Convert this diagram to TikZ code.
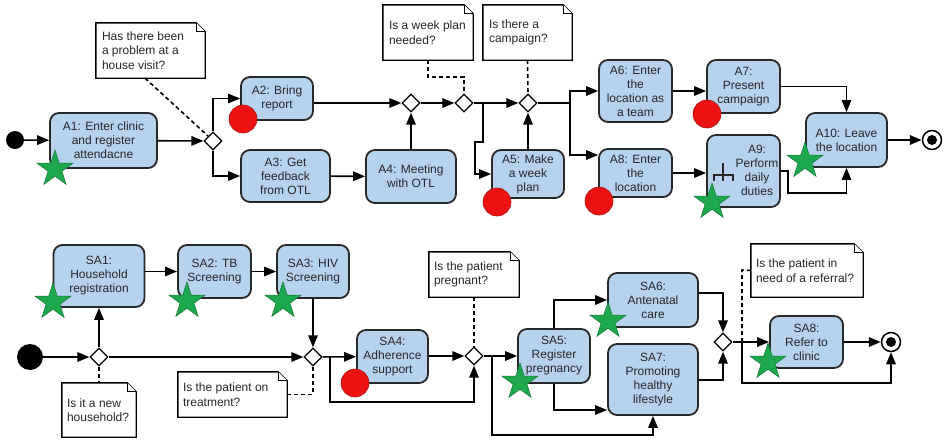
\documentclass[tikz,border=0pt]{standalone}
\usepackage{fontspec}
\setmainfont{Liberation Sans}
\usetikzlibrary{arrows.meta,shapes.geometric,calc}
\definecolor{boxblue}{RGB}{182,210,237}
\definecolor{lineclr}{RGB}{40,40,40}
\definecolor{textclr}{RGB}{38,38,45}
\definecolor{redmk}{RGB}{236,18,18}
\definecolor{greenmk}{RGB}{30,168,78}
\newcommand\mynote[1]{%
  \draw[noteout] (#1.north west) -- ([xshift=-9pt]#1.north east) -- ([yshift=-9pt]#1.north east) -- (#1.south east) -- (#1.south west) -- cycle;
  \draw[noteout,line width=1pt] ([xshift=-9pt]#1.north east) -- ([xshift=-9pt,yshift=-9pt]#1.north east) -- ([yshift=-9pt]#1.north east);}
\begin{document}
\begin{tikzpicture}[x=1pt,y=-1pt,
  act/.style={draw=lineclr, line width=1.8pt, fill=boxblue, rounded corners=9pt, align=center,
    font=\fontsize{12}{14}\selectfont, text=textclr, inner sep=0pt},
  dec/.style={draw=black, fill=white, diamond, minimum size=18pt, inner sep=0pt, line width=1.3pt},
  flow/.style={draw=black, line width=1.6pt, -{Triangle[length=12pt,width=9.5pt]}},
  plainln/.style={draw=black, line width=1.6pt},
  noteline/.style={draw=black, line width=1.6pt, dash pattern=on 4pt off 3pt},
  notebox/.style={inner sep=0pt},
  notetext/.style={align=left, font=\fontsize{12}{14.5}\selectfont, text=textclr, inner sep=0pt, anchor=west},
  noteout/.style={draw=black, line width=1.4pt, fill=white},
  redmark/.style={circle, fill=redmk, draw={rgb,255:red,170;green,20;blue,20}, line width=0.6pt, minimum size=28pt, inner sep=0pt},
  greenstar/.style={star, star points=5, star point ratio=2.6, fill=greenmk, draw={rgb,255:red,20;green,120;blue,55}, line width=0.5pt, minimum size=38pt, inner sep=0pt},
  startnd/.style={circle, fill=black, inner sep=0pt},
  endnd/.style={circle, draw=black, line width=1.5pt, fill=white, minimum size=19pt, inner sep=0pt}
]
\useasboundingbox (0,0) rectangle (944,439);

% ---------------- notes (top) ----------------
\node[notebox, minimum width=109pt, minimum height=55pt] (N1) at (150.5,50.5) {};
\node[notebox, minimum width=90pt, minimum height=55pt] (N2) at (428,32.5) {};
\node[notebox, minimum width=89pt, minimum height=55pt] (N3) at (527.5,32.5) {};
\mynote{N1}\mynote{N2}\mynote{N3}
\node[notetext] (N1t) at ([xshift=6pt]N1.west) {Has there been\\a problem at a\\house visit?};
\node[notetext] (N2t) at ([xshift=6pt]N2.west) {Is a week plan\\needed?};
\node[notetext] (N3t) at ([xshift=6pt]N3.west) {Is there a\\campaign?};

% ---------------- notes (bottom) ----------------
\node[notebox, minimum width=74pt, minimum height=54pt] (N4) at (99,410) {};
\node[notebox, minimum width=109pt, minimum height=45pt] (N5) at (232.5,394.5) {};
\node[notebox, minimum width=90pt, minimum height=45pt] (N6) at (474,274.5) {};
\node[notebox, minimum width=112pt, minimum height=53pt] (N7) at (807,270.5) {};
\mynote{N4}\mynote{N5}\mynote{N6}\mynote{N7}
\node[notetext] (N4t) at ([xshift=5pt]N4.west) {Is it a new\\household?};
\node[notetext] (N5t) at ([xshift=5pt]N5.west) {Is the patient on\\treatment?};
\node[notetext] (N6t) at ([xshift=5pt]N6.west) {Is the patient\\pregnant?};
\node[notetext] (N7t) at ([xshift=5pt]N7.west) {Is the patient in\\need of a referral?};

% ---------------- top row ----------------
\node[startnd, minimum size=18pt] (s1) at (15,140) {};
\node[act, minimum width=107pt, minimum height=55pt] (A1) at (103.5,140.5) {A1: Enter clinic\\and register\\attendacne};
\node[act, minimum width=72pt, minimum height=43pt] (A2) at (277,98.5) {A2: Bring\\report};
\node[act, minimum width=89pt, minimum height=52pt] (A3) at (285.5,176) {A3: Get\\feedback\\from OTL};
\node[act, minimum width=90pt, minimum height=53pt] (A4) at (411,176.5) {A4: Meeting\\with OTL};
\node[act, minimum width=72pt, minimum height=48pt] (A5) at (528,174) {A5: Make\\a week\\plan};
\node[act, minimum width=73pt, minimum height=62pt] (A6) at (635.5,91) {A6: Enter\\the\\location as\\a team};
\node[act, minimum width=73pt, minimum height=53pt] (A7) at (743.5,86.5) {A7:\\Present\\campaign};
\node[act, minimum width=73pt, minimum height=48pt] (A8) at (635.5,173) {A8: Enter\\the\\location};
\node[act, minimum width=73pt, minimum height=72pt] (A9) at (743.5,171) {};
\node[act, draw=none, fill=none] (A9t) at (757,170) {A9:\\Perform\\daily\\duties};
\node[act, minimum width=81pt, minimum height=54pt] (A10) at (846.5,140) {A10: Leave\\the location};
\node[endnd] (e1) at (932,140) {};
\fill[black] (e1.center) circle[radius=5pt];

\node[dec] (D1) at (213,141) {};
\node[dec] (D2) at (411,103) {};
\node[dec] (D3) at (464,103) {};
\node[dec] (D4) at (528,103) {};

% call-behaviour (rake) icon
\draw[line width=1.3pt, draw=lineclr] (714,181) -- (714,175) -- (733,175) -- (733,181) (723,163) -- (723,181);

\coordinate (k1) at (483,142);
\coordinate (k2) at (475,142);
\coordinate (k3) at (570,103);
\coordinate (k4) at (570,155);
\coordinate (k5) at (788,193);
\coordinate (k6) at (464,77);

\draw[flow] (s1) -- (A1);
\draw[flow] (A1) -- (D1);
\draw[flow] (D1.north) |- (A2.west);
\draw[flow] (D1.south) |- (A3.west);
\draw[flow] (A3) -- (A4);
\draw[flow] (A4) -- (D2);
\draw[flow] (A2.east |- D2) -- (D2.west);
\draw[flow] (D2) -- (D3);
\draw[flow] (D3) -- (D4);
\draw[flow] (D3.east -| k1) -- (k1) -- (k2) |- (A5.west);
\draw[flow] (A5) -- (D4);
\draw[plainln] (D4.east) -- (k3);
\draw[flow] (k3) |- (A6.west);
\draw[flow] (k3) -- (k4) -- (k4 -| A8.west);
\draw[flow] (A6.east) -- (A6.east -| A7.west);
\draw[flow] (A8.east) -- (A8.east -| A9.west);
\draw[flow] (A7.east) -| (A10.north);
\draw[flow] (A9.east) -| (k5) -| (A10.south);
\draw[flow] (A10) -- (e1);

\draw[noteline] ($(N1.south west)!0.45!(N1.south east)$) -- (D1.north west);
\draw[noteline] (N2.south) |- (k6) -- (D3.north);
\draw[noteline] (N3.south) -- (D4.north);

% ---------------- bottom row ----------------
\node[startnd, minimum size=26pt] (s2) at (30,357) {};
\node[act, minimum width=91pt, minimum height=62pt] (SA1) at (99,276) {SA1:\\Household\\registration};
\node[act, minimum width=73pt, minimum height=53pt] (SA2) at (214.5,271.5) {SA2: TB\\Screening};
\node[act, minimum width=72pt, minimum height=53pt] (SA3) at (313,271.5) {SA3: HIV\\Screening};
\node[act, minimum width=71pt, minimum height=53pt] (SA4) at (392.5,356.5) {SA4:\\Adherence\\support};
\node[act, minimum width=72pt, minimum height=54pt] (SA5) at (554,356) {SA5:\\Register\\pregnancy};
\node[act, minimum width=90pt, minimum height=54pt] (SA6) at (653,300) {SA6:\\Antenatal\\care};
\node[act, minimum width=90pt, minimum height=71pt] (SA7) at (653,379.5) {SA7:\\Promoting\\healthy\\lifestyle};
\node[act, minimum width=73pt, minimum height=52pt] (SA8) at (806.5,342) {SA8:\\Refer to\\clinic};
\node[endnd] (e2) at (891,342) {};
\fill[black] (e2.center) circle[radius=5pt];

\node[dec] (D5) at (99,357) {};
\node[dec] (D6) at (313,357) {};
\node[dec] (D7) at (474,356) {};
\node[dec] (D8) at (723,342) {};

\coordinate (k7) at (330,402);
\coordinate (k8) at (492,435);
\coordinate (k9) at (554,410);
\coordinate (k10) at (723,293);
\coordinate (k11) at (723,380);
\coordinate (k12) at (742,383);
\coordinate (k13) at (742,270);

\draw[flow] (s2) -- (D5);
\draw[flow] (D5) -- (SA1);
\draw[flow] (SA1.east |- SA2) -- (SA2.west);
\draw[flow] (SA2) -- (SA3);
\draw[flow] (SA3) -- (D6);
\draw[flow] (D5) -- (D6);
\draw[flow] (D6) -- (SA4);
\draw[flow] (D6.east -| k7) -- (k7) -| (D7.south);
\draw[flow] (SA4.east |- D7) -- (D7.west);
\draw[flow] (D7) -- (SA5);
\draw[flow] (D7.east -| k8) -- (k8) -| (SA7.south);
\draw[flow] (SA5.north) |- (SA6.west);
\draw[flow] (SA5.south) -- (k9) -- (k9 -| SA7.west);
\draw[flow] (k10 -| SA6.east) -- (k10) -- (D8.north);
\draw[flow] (k11 -| SA7.east) -- (k11) -- (D8.south);
\draw[flow] (D8) -- (SA8);
\draw[flow] (SA8) -- (e2);
\draw[flow] (D8.east -| k12) -- (k12) -| (e2.south);

\draw[noteline] (D5.south) -- (N4.north);
\draw[noteline] (N5.east) -| (D6.south);
\draw[noteline] (N6.south) -- (D7.north);
\draw[noteline] (N7.west) -- (k13) -- (k13 |- D8.east);

% ---------------- markers ----------------
\node[redmark] (r1) at (243,119) {};
\node[redmark] (r2) at (497,202) {};
\node[redmark] (r3) at (599,201) {};
\node[redmark] (r4) at (707,114) {};
\node[redmark] (r5) at (355,383) {};

\node[greenstar] (g1) at (55,169) {};
\node[greenstar] (g2) at (712,202) {};
\node[greenstar] (g3) at (805,161) {};
\node[greenstar] (g4) at (53,302) {};
\node[greenstar] (g5) at (187,301) {};
\node[greenstar] (g6) at (283,301) {};
\node[greenstar] (g7) at (520,382) {};
\node[greenstar] (g8) at (608,321) {};
\node[greenstar] (g9) at (768,362) {};
\end{tikzpicture}
\end{document}
